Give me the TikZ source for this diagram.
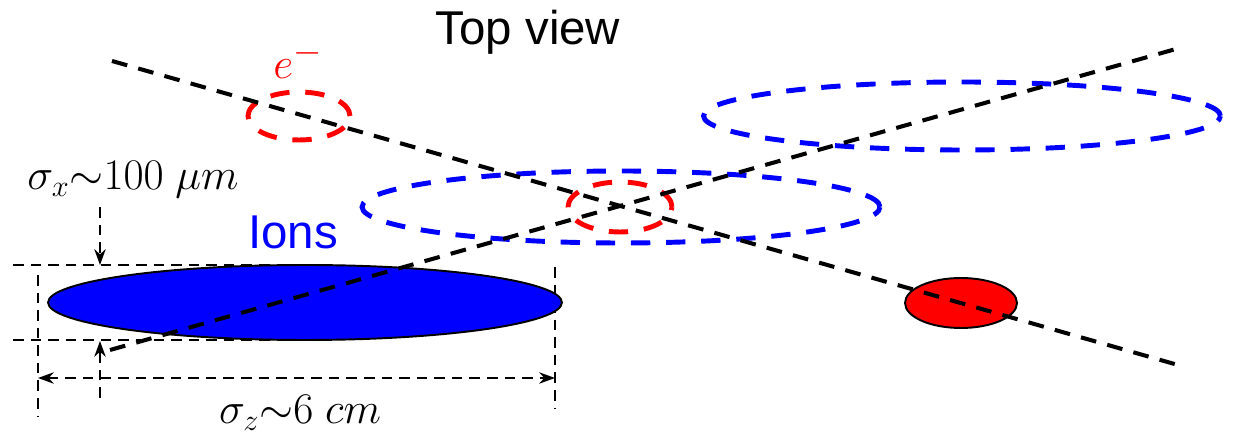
\documentclass[tikz,border=0pt]{standalone}
\usepackage{fontspec}
\setmainfont{Liberation Sans}
\usetikzlibrary{shapes.geometric,arrows.meta}

\begin{document}
\begin{tikzpicture}[x=0.02cm, y=-0.02cm,
  bunch/.style={ellipse, draw, inner sep=0pt, line width=1.1pt},
  ring/.style={ellipse, draw, inner sep=0pt, line width=2.8pt, dash pattern=on 11pt off 9pt},
  beam/.style={line width=2.3pt, dash pattern=on 9pt off 6.5pt},
  dim/.style={line width=1.2pt, dash pattern=on 6pt off 4pt},
  dimarr/.style={dim, ->, >={Stealth[length=9pt,width=6.5pt]}},
  lbl/.style={font=\fontsize{27}{31}\selectfont},
  mlbl/.style={font=\fontsize{24}{28}\selectfont}
]
\useasboundingbox (0,0) rectangle (1235,445);
% extension and dimension lines
\coordinate (topL) at (13,265);  \coordinate (topR) at (300,265);
\coordinate (botL) at (13,340);  \coordinate (botR) at (300,340);
\coordinate (extL1) at (38,275); \coordinate (extL2) at (38,417);
\coordinate (extR1) at (555,267); \coordinate (extR2) at (555,408);
\coordinate (lenL) at (38,378);  \coordinate (lenR) at (555,378);
\coordinate (wdT1) at (100,207); \coordinate (wdT2) at (100,265);
\coordinate (wdB1) at (100,398); \coordinate (wdB2) at (100,341);
\draw[dim] (topL) -- (topR);
\draw[dim] (botL) -- (botR);
\draw[dim] (extL1) -- (extL2);
\draw[dim] (extR1) -- (extR2);
\draw[dimarr, <->] (lenL) -- (lenR);
\draw[dimarr] (wdT1) -- (wdT2);
\draw[dimarr] (wdB1) -- (wdB2);
% bunches
\node[bunch, fill=blue, minimum width=10.28cm, minimum height=1.5cm] (ions) at (305,302.5) {};
\node[ring, blue, minimum width=10.36cm, minimum height=1.44cm] (ionsA) at (621,207) {};
\node[ring, blue, minimum width=10.34cm, minimum height=1.36cm] (ionsB) at (962,116) {};
\node[ring, red, minimum width=2.04cm, minimum height=0.96cm] (elecA) at (299,116) {};
\node[ring, red, minimum width=2.08cm, minimum height=1.0cm] (elecB) at (620,207) {};
\node[bunch, fill=red, minimum width=2.24cm, minimum height=1.0cm] (elec) at (961,303) {};
% beam axes
\coordinate (eIn) at (112,61);  \coordinate (eOut) at (1178,365);
\coordinate (iIn) at (110,350); \coordinate (iOut) at (1183,47);
\draw[beam] (eIn) -- (eOut);
\draw[beam] (iIn) -- (iOut);
% labels
\node[lbl] (title) at (528,32) {Top view};
\node[lbl, blue] (ionlbl) at (293,232) {Ions};
\node[red, font=\fontsize{28}{32}\selectfont] (elbl) at (298,60) {$e^-$};
\node[mlbl] (sigx) at (133,180) {$\sigma_x{\sim}100\ \mu m$};
\node[mlbl] (sigz) at (300,413) {$\sigma_z{\sim}6\ cm$};
\end{tikzpicture}
\end{document}
